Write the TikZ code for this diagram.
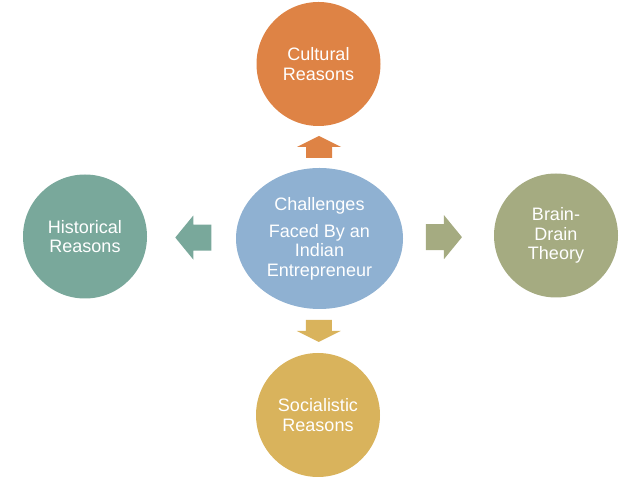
\documentclass[tikz,border=0pt]{standalone}
\usepackage{fontspec}
\setmainfont{Liberation Sans}
\usetikzlibrary{calc,shapes.geometric}
\definecolor{hubblue}{HTML}{8FB1D2}
\definecolor{culturalorange}{HTML}{DE8345}
\definecolor{historicalteal}{HTML}{79A89B}
\definecolor{brainolive}{HTML}{A5AB81}
\definecolor{socialgold}{HTML}{D9B35C}
\tikzset{
  reason/.style={circle,minimum size=124pt,inner sep=0pt,align=center,
                 text=white,font=\fontsize{18}{19.5}\selectfont},
  hubnode/.style={ellipse,minimum width=167pt,minimum height=141pt,inner sep=0pt,
                  fill=hubblue,align=center,text=white,
                  font=\fontsize{18}{19.5}\selectfont},
  pics/blockarr/.style={code={
    \fill (-#1/2,-13) -- (0,-13) -- (0,-22) -- (#1/2,0) -- (0,22) -- (0,13)
      -- (-#1/2,13) -- cycle;
  }}
}

\begin{document}
\begin{tikzpicture}[x=1pt,y=1pt]
    \path[use as bounding box] (0,0) rectangle (638,479);

    \node[hubnode] (hub) at (319.5,240.5)
      {Challenges\\[7.5pt]Faced By an\\Indian\\Entrepreneur};

    \node[reason,fill=culturalorange] (cult) at (318.5,415) {Cultural\\Reasons};
    \node[reason,fill=historicalteal] (hist) at (85,242.5) {Historical\\Reasons};
    \node[reason,fill=brainolive] (brain) at (556,243.5) {Brain-\\Drain\\Theory};
    \node[reason,fill=socialgold] (soc) at (318,64) {Socialistic\\Reasons};

    % block arrows between the hub and each reason
    \pic[fill=culturalorange,rotate=90] at ($(hub.north)!0.5!(cult.south)$) {blockarr=22};
    \pic[fill=historicalteal,rotate=180] at ($(hub.west)!0.48!(hist.east)$) {blockarr=36};
    \pic[fill=brainolive] at ($(hub.east)!0.45!(brain.west)$) {blockarr=36};
    \pic[fill=socialgold,rotate=-90] at ($(hub.south)!0.5!(soc.north)$) {blockarr=22};
  \end{tikzpicture}
\end{document}
